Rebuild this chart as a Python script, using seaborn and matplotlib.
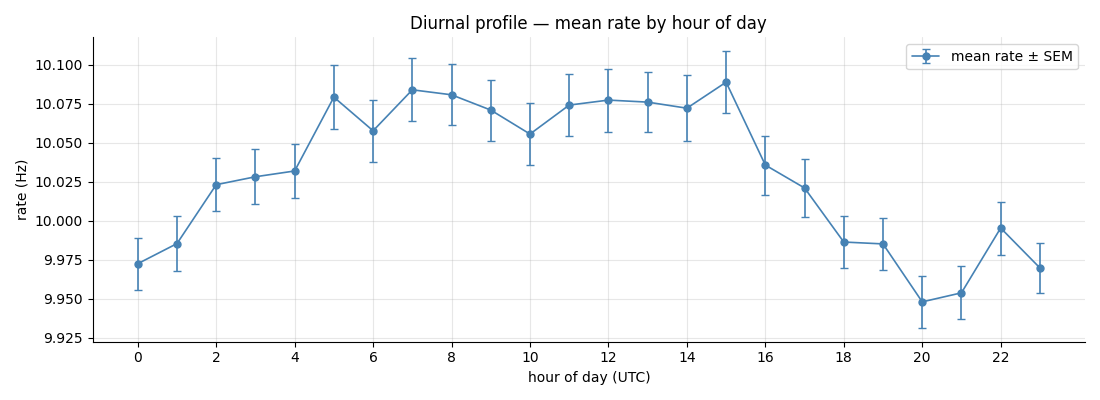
import numpy as np
import pandas as pd
import seaborn as sns
import matplotlib
matplotlib.use("Agg")
import matplotlib.pyplot as plt

# hourly mean rate and standard error
hours = list(range(24))
mean_rate = [9.9724, 9.9853, 10.0231, 10.0282, 10.0319, 10.0793, 10.0577, 10.0840,
             10.0808, 10.0710, 10.0556, 10.0742, 10.0774, 10.0761, 10.0722, 10.0889,
             10.0357, 10.0210, 9.9863, 9.9851, 9.9479, 9.9537, 9.9953, 9.9697]
sem = [0.0166, 0.0177, 0.0170, 0.0178, 0.0173, 0.0205, 0.0199, 0.0202,
       0.0197, 0.0196, 0.0197, 0.0197, 0.0202, 0.0192, 0.0212, 0.0199,
       0.0189, 0.0189, 0.0167, 0.0166, 0.0167, 0.0170, 0.0170, 0.0160]

df = pd.DataFrame({"hour": hours, "rate": mean_rate, "sem": sem})

sns.set_style("ticks", rc={"text.color": "black", "axes.labelcolor": "black",
                           "xtick.color": "black", "ytick.color": "black",
                           "axes.edgecolor": "black"})
fig, ax = plt.subplots(figsize=(11, 4), dpi=100)

ax.errorbar(df["hour"], df["rate"], yerr=df["sem"], fmt="-o", color="steelblue",
            ms=5, lw=1.2, capsize=3, elinewidth=1.2, label="mean rate ± SEM")

ax.set_xticks(range(0, 24, 2))
ax.set_title("Diurnal profile — mean rate by hour of day", fontsize=12)
ax.set_xlabel("hour of day (UTC)")
ax.set_ylabel("rate (Hz)")
ax.grid(True, color="#b0b0b0", alpha=0.3, lw=0.8)
ax.legend(loc="upper right")
sns.despine(ax=ax)

plt.tight_layout()
plt.savefig("out.png")
